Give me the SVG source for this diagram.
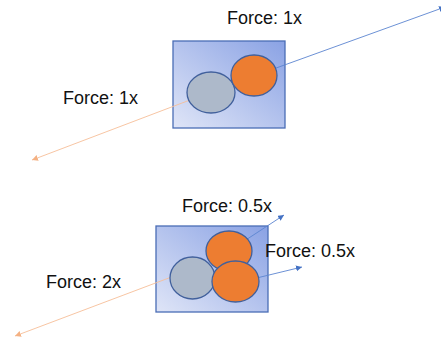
<svg xmlns="http://www.w3.org/2000/svg" width="441" height="347" viewBox="0 0 441 347">
<style>
.box{fill:url(#g);stroke:#4a6db5;stroke-width:1.3}
.gray{fill:#adb9ca;stroke:#41609c;stroke-width:1.3}
.orange{fill:#ed7d31;stroke:#41609c;stroke-width:1.3}
.blue{stroke:#5b85d0;stroke-width:0.9;fill:none;marker-end:url(#ab)}
.peach{stroke:#f6be98;stroke-width:0.9;fill:none;marker-end:url(#ao)}
text{font-family:"Liberation Sans",Arial,sans-serif;font-size:18px;fill:#111}
</style>
<defs>
<linearGradient id="g" x1="0" y1="1" x2="1" y2="0">
<stop offset="0" stop-color="#dfe5f7"/>
<stop offset="1" stop-color="#8aa2e4"/>
</linearGradient>
<marker id="ab" markerUnits="userSpaceOnUse" markerWidth="8" markerHeight="8" refX="6" refY="3" orient="auto">
<path d="M0,0 L6,3 L0,6 Z" fill="#4472c4"/>
</marker>
<marker id="ao" markerUnits="userSpaceOnUse" markerWidth="8" markerHeight="8" refX="6" refY="3" orient="auto">
<path d="M0,0 L6,3 L0,6 Z" fill="#f4b183"/>
</marker>
</defs>
<rect width="441" height="347" fill="#fff"/>
<g id="box-top"><rect class="box" x="173" y="41" width="112" height="87"/></g>
<g id="box-bottom"><rect class="box" x="156" y="226" width="112" height="86"/></g>
<g id="connectors">
<line class="blue" x1="254" y1="76" x2="445" y2="7"/>
<line class="peach" x1="211" y1="92" x2="32" y2="160"/>
<line class="blue" x1="229" y1="251" x2="284" y2="215"/>
<line class="blue" x1="236" y1="283" x2="302" y2="267"/>
<line class="peach" x1="190" y1="270" x2="15" y2="336"/>
</g>
<g id="gray-top"><ellipse class="gray" cx="211" cy="92.5" rx="24" ry="20.5"/></g>
<g id="orange-top"><ellipse class="orange" cx="254" cy="75.5" rx="23" ry="20.5"/></g>
<g id="gray-bottom"><ellipse class="gray" cx="192.5" cy="278" rx="22.5" ry="21"/></g>
<g id="orange-bottom-1"><ellipse class="orange" cx="229" cy="251" rx="23" ry="20"/></g>
<g id="orange-bottom-2"><ellipse class="orange" cx="235.5" cy="281.5" rx="23.5" ry="20.5"/></g>
<g id="labels">
<text x="227" y="24">Force: 1x</text>
<text x="63" y="104">Force: 1x</text>
<text x="182" y="212">Force: 0.5x</text>
<text x="265" y="257">Force: 0.5x</text>
<text x="46" y="288">Force: 2x</text>
</g>
</svg>
